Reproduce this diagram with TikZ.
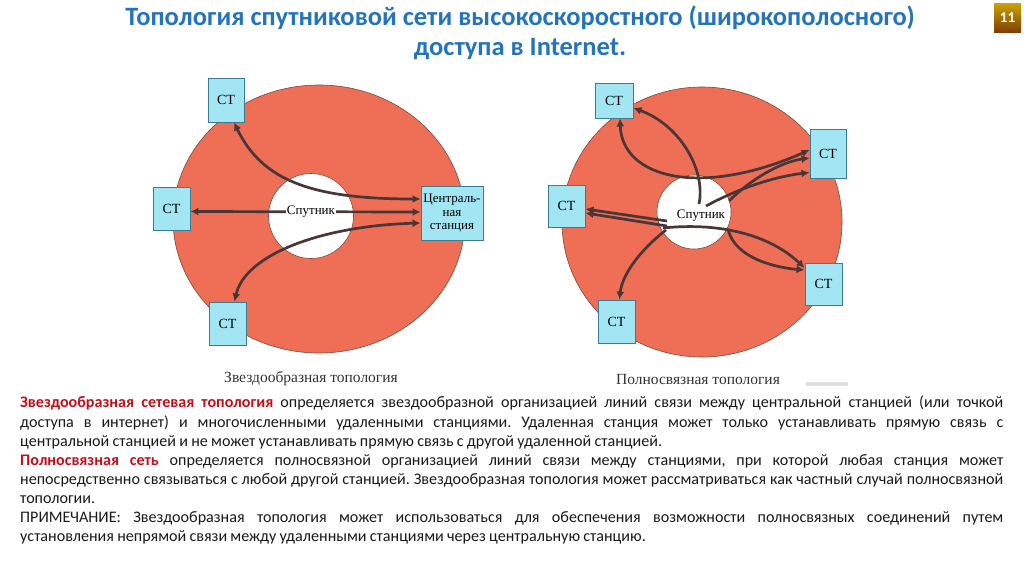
\documentclass[tikz,border=0pt]{standalone}
\usepackage{fontspec}
\setmainfont{Carlito}
\newfontfamily\dserif{Liberation Serif}
\usetikzlibrary{arrows.meta}
\definecolor{ringred}{HTML}{EF6E56}
\definecolor{ringedge}{HTML}{7A4A3A}
\definecolor{boxfill}{HTML}{A2E6F4}
\definecolor{boxedge}{HTML}{3C7C92}
\definecolor{arrowc}{HTML}{4A3636}
\definecolor{titleblue}{HTML}{2474BA}
\definecolor{keyred}{HTML}{C0101C}
\definecolor{bodytext}{HTML}{1A1A1A}
\newcommand\myfullline[1]{\makebox[983pt][s]{#1}}
\tikzset{
  stbox/.style={draw=boxedge,line width=0.9pt,fill=boxfill,inner sep=0pt,font=\dserif\fontsize{14}{15}\selectfont,align=center},
  link/.style={draw=arrowc,line width=2.7pt,-{Latex[length=8pt,width=8pt]}},
  dlink/.style={draw=arrowc,line width=2.7pt,{Latex[length=8pt,width=8pt]}-{Latex[length=8pt,width=8pt]}},
  satlabel/.style={fill=white,inner sep=1pt,font=\dserif\fontsize{13}{14}\selectfont},
  caption/.style={font=\dserif\fontsize{15.5}{16}\selectfont,text=black!80},
}
\begin{document}
\begin{tikzpicture}[x=1pt,y=-1pt]
\useasboundingbox (0,0) rectangle (1024,574);
\fill[white] (0,0) rectangle (1024,574);
% title
\node[font=\bfseries\fontsize{26.5}{30}\selectfont,text=titleblue,align=center] (title) at (520,33)
  {Топология спутниковой сети высокоскоростного (широкополосного)\\доступа в Internet.};
% badge
\shade[top color=yellow!60!orange!80!black,bottom color=orange!50!black] (994,3) rectangle (1021,32);
\node[font=\bfseries\fontsize{15}{16}\selectfont,text=white] (badge) at (1007.5,17.5) {11};
% ===== left diagram =====
\fill[ringred,draw=ringedge,line width=0.6pt] (319,219) ellipse [x radius=146, y radius=134];
\fill[white,draw=ringedge,line width=0.6pt] (311,216) circle [radius=42.5];
\node[stbox,minimum width=36pt,minimum height=44pt] (lt) at (226,100) {СТ};
\node[stbox,minimum width=37pt,minimum height=43pt] (ll) at (171.5,208.5) {СТ};
\node[stbox,minimum width=37pt,minimum height=43pt] (lb) at (227.5,323.5) {СТ};
\node[stbox,minimum width=62pt,minimum height=54pt,font=\dserif\fontsize{13}{13.5}\selectfont] (lc) at (452,213) {Централь-\\ная\\станция};
\draw[dlink] ([xshift=8pt]lt.south) .. controls (262,180) and (310,199) .. ([yshift=14pt]lc.west);
\draw[dlink] ([yshift=-3pt]ll.east) -- ([yshift=1pt]lc.west);
\draw[dlink] ([xshift=7pt]lb.north) .. controls (245,255) and (320,226) .. ([yshift=-10pt]lc.west);
\node[satlabel] (lsat) at (311,212) {Спутник};
\node[caption] (lcap) at (311,379) {Звездообразная топология};
% ===== right diagram =====
\fill[ringred,draw=ringedge,line width=0.6pt] (702,222) ellipse [x radius=140, y radius=135];
\fill[white,draw=ringedge,line width=0.6pt] (694,212) circle [radius=37];
\node[stbox,minimum width=38pt,minimum height=35pt] (rt) at (614,100.5) {СТ};
\node[stbox,minimum width=36pt,minimum height=49pt] (ru) at (828,153.5) {СТ};
\node[stbox,minimum width=37pt,minimum height=42pt] (rl) at (566.5,206) {СТ};
\node[stbox,minimum width=37pt,minimum height=42pt] (rr) at (823.5,284) {СТ};
\node[stbox,minimum width=37pt,minimum height=43pt] (rb) at (616.5,321.5) {СТ};
\coordinate (s1) at (699,204);
\coordinate (s2) at (706,206);
\coordinate (s3) at (729,201);
\coordinate (s4) at (667,221);
\coordinate (s5) at (667,226);
\coordinate (s6) at (663,228);
\coordinate (s7) at (728,229);
\coordinate (s8) at (666,230);
\draw[dlink] ([xshift=6pt]rt.south) .. controls (622,178) and (700,198) .. ([yshift=3.5pt]ru.west);
\draw[link] (s1) .. controls (706,170) and (680,125) .. ([yshift=-7.5pt]rt.east);
\draw[link] (s2) .. controls (745,185) and (780,176) .. ([yshift=-19pt]ru.west);
\draw[link] (s3) .. controls (750,180) and (780,162) .. ([yshift=-4.5pt]ru.west);
\draw[link] (s4) -- ([yshift=-3pt]rl.east);
\draw[link] (s5) -- ([yshift=-7pt]rl.east);
\draw[link] (s6) .. controls (720,222) and (770,235) .. ([yshift=16pt]rr.west);
\draw[link] (s7) .. controls (735,260) and (780,268) .. ([yshift=14pt]rr.west);
\draw[link] (s8) .. controls (640,250) and (622,275) .. ([xshift=3pt]rb.north);
\node[satlabel] (rsat) at (701,216) {Спутник};
\node[caption] (rcap) at (698,379) {Полносвязная топология};
\fill[black!12] (806,382) rectangle (848,386);
% ===== body text =====
\node[anchor=north west,inner sep=0pt,text width=983pt,align=left,text=bodytext,
      font=\fontsize{16.1}{19.14}\selectfont] (body) at (20,396) {%
\frenchspacing\spaceskip=0.2em plus 3em minus 0.08em\relax
\myfullline{\textcolor{keyred}{\bfseries Звездообразная сетевая топология} определяется звездообразной организацией линий связи между центральной станцией (или точкой}\\
\myfullline{доступа в интернет) и многочисленными удаленными станциями. Удаленная станция может только устанавливать прямую связь с}\\
центральной станцией и не может устанавливать прямую связь с другой удаленной станцией.\\
\myfullline{\textcolor{keyred}{\bfseries Полносвязная сеть} определяется полносвязной организацией линий связи между станциями, при которой любая станция может}\\
\myfullline{непосредственно связываться с любой другой станцией. Звездообразная топология может рассматриваться как частный случай полносвязной}\\
топологии.\\
\myfullline{ПРИМЕЧАНИЕ: Звездообразная топология может использоваться для обеспечения возможности полносвязных соединений путем}\\
установления непрямой связи между удаленными станциями через центральную станцию.};
\end{tikzpicture}
\end{document}
